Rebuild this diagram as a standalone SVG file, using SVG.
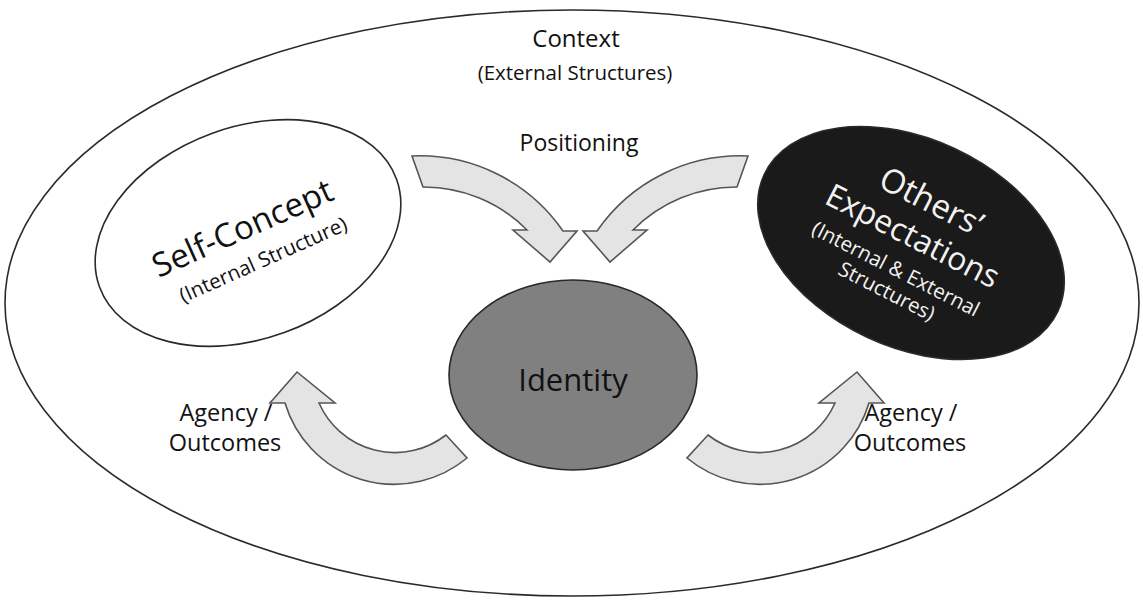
<svg xmlns="http://www.w3.org/2000/svg" width="1143" height="605" viewBox="0 0 1143 605">
<style>
text{font-family:"Open Sans","Noto Sans",sans-serif;fill:#111;text-anchor:middle}
.ell{stroke:#2a2a2a;stroke-width:1.6}
.arrow{fill:#e4e4e4;stroke:#555;stroke-width:1.6;stroke-linejoin:miter}
.w{fill:#f2f2f2}
</style>
<rect width="1143" height="605" fill="#fff"/>
<g id="context">
<ellipse class="ell" cx="572" cy="303" rx="567" ry="293" fill="#fff"/>
<text x="576" y="47" font-size="24">Context</text>
<text x="575" y="80" font-size="20.5">(External Structures)</text>
</g>
<g id="connectors">
<path class="arrow" d="M412 156 A174 174 0 0 1 563 231 L577 231 L550 262 L513 230 L527 230 A145 145 0 0 0 423 187 Z"/>
<path class="arrow" d="M748 156 A174 174 0 0 0 597 231 L583 231 L610 262 L647 230 L633 230 A145 145 0 0 1 737 187 Z"/>
<path class="arrow" d="M285 403 A114 114 0 0 0 467 458 L446 435 A83 83 0 0 1 319 403 L335 403 L297 372 L270 403 Z"/>
<path class="arrow" d="M869 403 A114 114 0 0 1 687 458 L708 435 A83 83 0 0 0 835 403 L819 403 L857 372 L884 403 Z"/>
<text x="579" y="151" font-size="23">Positioning</text>
<text x="226" y="421" font-size="23.5">Agency /</text>
<text x="225" y="451" font-size="23.5">Outcomes</text>
<text x="911" y="421" font-size="23.5">Agency /</text>
<text x="910" y="451" font-size="23.5">Outcomes</text>
</g>
<g id="self-concept">
<ellipse class="ell" cx="248" cy="233" rx="158" ry="106" transform="rotate(-20 248 233)" fill="#fff"/>
<g transform="rotate(-24 250 235)">
<text x="246" y="237" font-size="33">Self-Concept</text>
<text x="252" y="270" font-size="20.5">(Internal Structure)</text>
</g>
</g>
<g id="others-expectations">
<ellipse class="ell" cx="911" cy="243" rx="162" ry="104" transform="rotate(25 911 243)" fill="#1a1a1a"/>
<g transform="rotate(27 905 240)">
<text class="w" x="911" y="205" font-size="33">Others’</text>
<text class="w" x="910" y="244" font-size="32">Expectations</text>
<text class="w" x="910" y="277" font-size="20.5">(Internal &amp; External</text>
<text class="w" x="912" y="301" font-size="20.5">Structures)</text>
</g>
</g>
<g id="identity">
<ellipse class="ell" cx="573" cy="375" rx="124" ry="95" fill="#808080"/>
<text x="573" y="391" font-size="31">Identity</text>
</g>
</svg>
